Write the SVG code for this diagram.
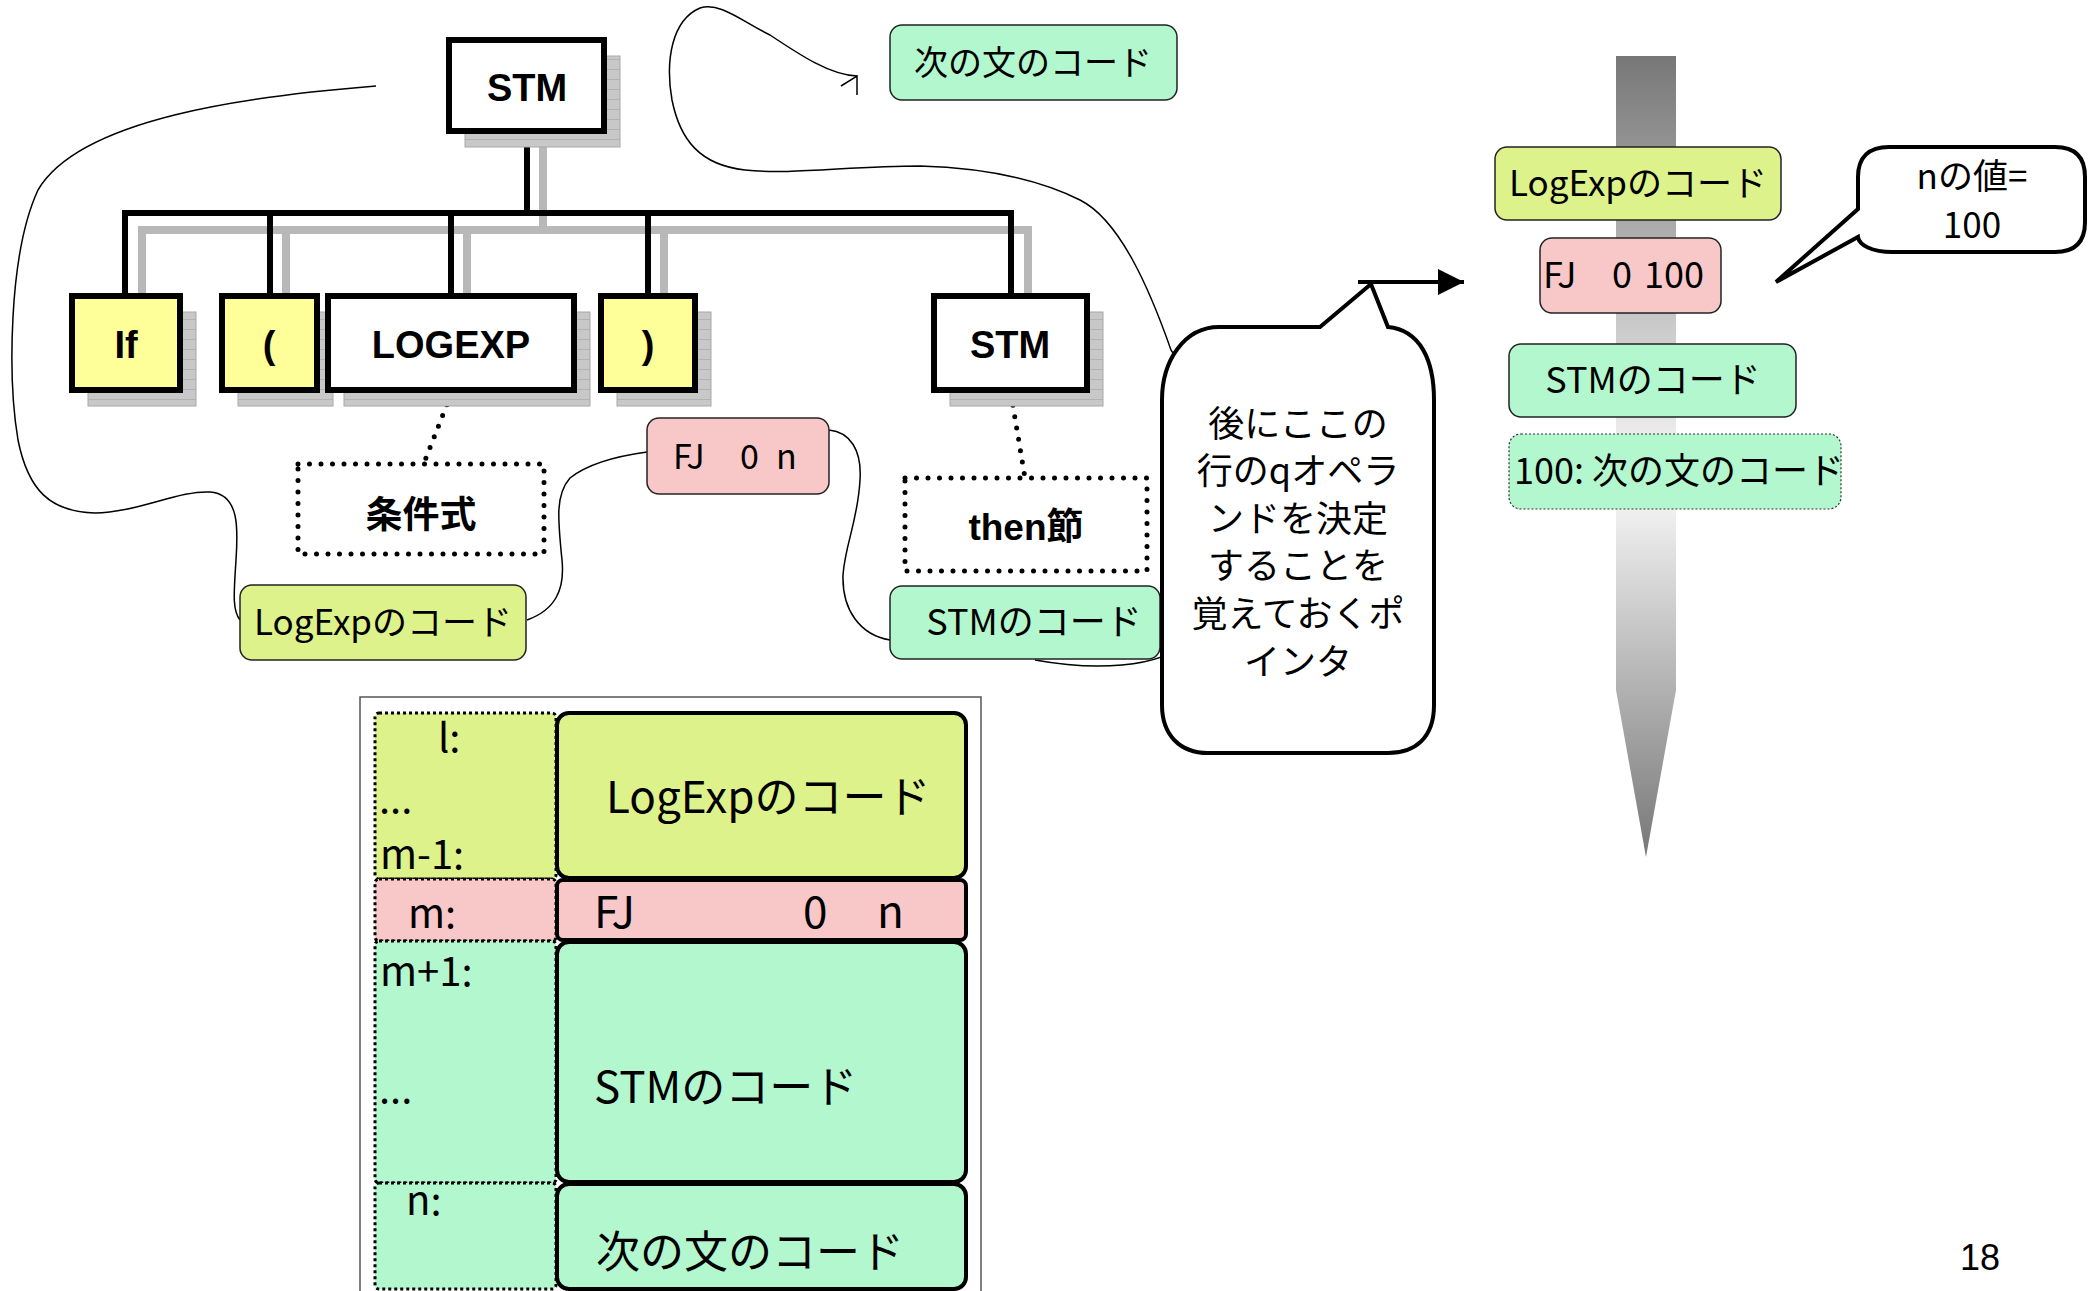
<svg xmlns="http://www.w3.org/2000/svg" width="2089" height="1291" viewBox="0 0 2089 1291">
<defs>
<pattern id="hatch" width="8" height="10" patternUnits="userSpaceOnUse"><rect width="8" height="10" fill="#c8c8c8"/><line x1="0" y1="9.5" x2="8" y2="9.5" stroke="#b2b2b2" stroke-width="1"/></pattern>
<linearGradient id="pg" gradientUnits="userSpaceOnUse" x1="0" y1="56" x2="0" y2="857"><stop offset="0" stop-color="#777"/><stop offset="0.53" stop-color="#fafafa"/><stop offset="1" stop-color="#777"/></linearGradient>
<marker id="tri" markerUnits="userSpaceOnUse" markerWidth="28" markerHeight="28" refX="26" refY="13" orient="auto"><path d="M0,0 L26,13 L0,26 Z" fill="#000"/></marker>
</defs>
<style>
.sh{fill:url(#hatch);stroke:#a8a8a8;stroke-width:1}
.tb{stroke:#000;stroke-width:6}
.tl{fill:none;stroke:#000;stroke-width:6}
.tls{fill:none;stroke:#b8b8b8;stroke-width:8}
.dot{fill:none;stroke:#000;stroke-width:5;stroke-dasharray:0 11.5;stroke-linecap:round}
.cv{fill:none;stroke:#000;stroke-width:1.5}
.code{stroke:#222;stroke-width:1.5}
.yg{fill:#ddf28a}.pk{fill:#f8c8c8}.mt{fill:#b3f7ce}.ye{fill:#ffff99}
.bt{font-family:"Liberation Sans",Arial,sans-serif;font-weight:bold;font-size:38px;text-anchor:middle;fill:#000}
.bj{font-family:"Liberation Sans","Noto Sans CJK JP",sans-serif;font-weight:bold;font-size:37px;text-anchor:middle;fill:#000}
.jp{font-family:"Noto Sans CJK JP","Noto Sans",sans-serif;fill:#000}
.mid{text-anchor:middle}
.cell{stroke:#000;stroke-width:3;stroke-dasharray:3 3}
.rb{stroke:#000;stroke-width:4}
</style>
<rect width="2089" height="1291" fill="#fff"/>

<g id="pointer"><polygon points="1616,56 1676,56 1676,690 1646,857 1616,690" fill="url(#pg)"/></g>

<g id="connectors">
<path class="tls" d="M543,147 V230 M142,313 V230 H1028 V313 M286,230 V313 M467,230 V313 M664,230 V313"/>
<path class="tl" d="M527,131 V213 M125,296 V213 H1011 V296 M270,213 V296 M451,213 V296 M648,213 V296"/>
<path class="dot" d="M451,394 L424,463"/>
<path class="dot" d="M1011,394 L1025,478"/>
<path class="cv" d="M376,86 C250,96 80,118 38,190 C8,255 8,380 18,440 C28,490 50,512 95,513 C135,513 180,490 210,492 C240,494 238,530 236,560 C234,592 232,610 240,620"/>
<path class="cv" d="M527,620 C555,610 565,590 562,560 C558,520 555,495 570,478 C590,462 625,455 647,452"/>
<path class="cv" d="M829,430 C850,432 862,450 860,480 C858,520 845,545 843,575 C842,610 860,635 890,640"/>
<path class="cv" d="M1035,660 C1090,670 1160,670 1190,640 L1185,400 C1180,370 1175,355 1171,350 C1150,290 1120,220 1080,200 C1040,180 990,168 920,166 C850,166 790,175 745,170 C700,165 680,140 672,100 C665,60 672,20 700,8 C720,2 740,20 770,35 C800,55 830,75 857,76"/>
<path class="cv" d="M841,86 L857,76 L857,95"/>
<path d="M1358,282 H1464" stroke="#000" stroke-width="4" marker-end="url(#tri)"/>
</g>

<g id="node-stm-root">
<rect class="sh" x="465" y="56" width="155" height="91"/>
<rect class="tb" x="449" y="40" width="155" height="91" fill="#fff"/>
<text class="bt" x="527" y="101">STM</text>
</g>
<g id="node-if">
<rect class="sh" x="88" y="312" width="108" height="94"/>
<rect class="tb ye" x="72" y="296" width="108" height="94"/>
<text class="bt" x="126" y="358">If</text>
</g>
<g id="node-lparen">
<rect class="sh" x="238" y="312" width="95" height="94"/>
<rect class="tb ye" x="222" y="296" width="95" height="94"/>
<text class="bt" x="269" y="358">(</text>
</g>
<g id="node-logexp">
<rect class="sh" x="344" y="312" width="246" height="94"/>
<rect class="tb" x="328" y="296" width="246" height="94" fill="#fff"/>
<text class="bt" x="451" y="358">LOGEXP</text>
</g>
<g id="node-rparen">
<rect class="sh" x="617" y="312" width="94" height="94"/>
<rect class="tb ye" x="601" y="296" width="94" height="94"/>
<text class="bt" x="648" y="358">)</text>
</g>
<g id="node-stm2">
<rect class="sh" x="950" y="312" width="153" height="94"/>
<rect class="tb" x="934" y="296" width="153" height="94" fill="#fff"/>
<text class="bt" x="1010" y="358">STM</text>
</g>
<g id="node-cond">
<rect class="dot" x="298" y="464" width="246" height="90" fill="#fff"/>
<text class="bj" x="421" y="528">条件式</text>
</g>
<g id="node-then">
<rect class="dot" x="905" y="478" width="242" height="93" fill="#fff"/>
<text class="bj" x="1026" y="540">then節</text>
</g>
<g id="node-logexp-code">
<rect class="code yg" x="240" y="585" width="286" height="75" rx="12"/>
<text class="jp mid" x="383" y="635" font-size="35">LogExpのコード</text>
</g>
<g id="node-fj">
<rect class="code pk" x="647" y="418" width="182" height="76" rx="12"/>
<text class="jp" y="469" font-size="34"><tspan x="673">FJ</tspan><tspan x="740">0</tspan><tspan x="776">n</tspan></text>
</g>
<g id="node-stm-code">
<rect class="code mt" x="890" y="586" width="270" height="73" rx="12"/>
<text class="jp mid" x="1034" y="635" font-size="36">STMのコード</text>
</g>
<g id="node-next-code">
<rect class="code mt" x="890" y="25" width="287" height="75" rx="12"/>
<text class="jp mid" x="1033" y="75" font-size="34">次の文のコード</text>
</g>

<g id="node-callout">
<path d="M1219,327 L1320,327 L1371,284 L1388,327 C1420,330 1434,360 1434,400 L1434,705 C1434,738 1415,753 1388,753 L1208,753 C1180,753 1162,735 1162,705 L1162,400 C1162,360 1185,327 1219,327 Z" fill="#fff" stroke="#000" stroke-width="4"/>
<text class="jp mid" font-size="36"><tspan x="1298" y="437">後にここの</tspan><tspan x="1298" y="484">行のqオペラ</tspan><tspan x="1298" y="532">ンドを決定</tspan><tspan x="1298" y="579">することを</tspan><tspan x="1298" y="627">覚えておくポ</tspan><tspan x="1298" y="675">インタ</tspan></text>
</g>

<g id="node-r-logexp">
<rect class="code yg" x="1495" y="147" width="286" height="73" rx="12"/>
<text class="jp mid" x="1638" y="196" font-size="35">LogExpのコード</text>
</g>
<g id="node-r-fj">
<rect class="code pk" x="1540" y="238" width="181" height="75" rx="12"/>
<text class="jp" y="288" font-size="36"><tspan x="1543">FJ</tspan><tspan x="1612">0</tspan><tspan x="1644">100</tspan></text>
</g>
<g id="node-r-stm">
<rect class="code mt" x="1509" y="344" width="287" height="73" rx="12"/>
<text class="jp mid" x="1653" y="393" font-size="36">STMのコード</text>
</g>
<g id="node-r-next">
<rect class="mt" x="1509" y="434" width="332" height="75" rx="12" stroke="#333" stroke-width="1.2" stroke-dasharray="2 2"/>
<text class="jp" x="1514" y="484" font-size="36">100: 次の文のコード</text>
</g>
<g id="node-n-callout">
<path d="M1889,147 L2055,147 C2075,147 2085,157 2085,177 L2085,222 C2085,242 2075,252 2055,252 L1892,252 C1872,252 1859,245 1858,237 L1776,282 L1858,209 L1858,177 C1858,157 1869,147 1889,147 Z" fill="#fff" stroke="#000" stroke-width="4"/>
<text class="jp mid" font-size="35"><tspan x="1972" y="189">nの値=</tspan><tspan x="1972" y="238">100</tspan></text>
</g>

<g id="table">
<path d="M360,1291 V697 H981 V1291" fill="none" stroke="#555" stroke-width="1.5"/>
<rect class="cell yg" x="375" y="713" width="181" height="166" rx="4"/>
<rect class="cell pk" x="375" y="879" width="181" height="62" rx="4"/>
<rect class="cell mt" x="375" y="941" width="181" height="242" rx="4"/>
<rect class="cell mt" x="375" y="1183" width="181" height="106" rx="4"/>
<rect class="rb yg" x="557" y="713" width="409" height="165" rx="12"/>
<rect class="rb pk" x="557" y="880" width="409" height="60" rx="6"/>
<rect class="rb mt" x="557" y="942" width="409" height="240" rx="12"/>
<rect class="rb mt" x="557" y="1184" width="409" height="105" rx="12"/>
<g class="jp" font-size="40">
<text x="438" y="752">l:</text>
<text x="379" y="813">...</text>
<text x="380" y="869">m-1:</text>
<text x="408" y="928">m:</text>
<text x="380" y="986">m+1:</text>
<text x="379" y="1103">...</text>
<text x="406" y="1215">n:</text>
</g>
<g class="jp" font-size="44">
<text x="606" y="813">LogExpのコード</text>
<text y="928"><tspan x="594">FJ</tspan><tspan x="803">0</tspan><tspan x="877">n</tspan></text>
<text x="594" y="1103">STMのコード</text>
<text x="596" y="1268">次の文のコード</text>
</g>
</g>

<text x="1980" y="1270" font-family="Liberation Sans, Arial, sans-serif" font-size="36" text-anchor="middle">18</text>
</svg>
